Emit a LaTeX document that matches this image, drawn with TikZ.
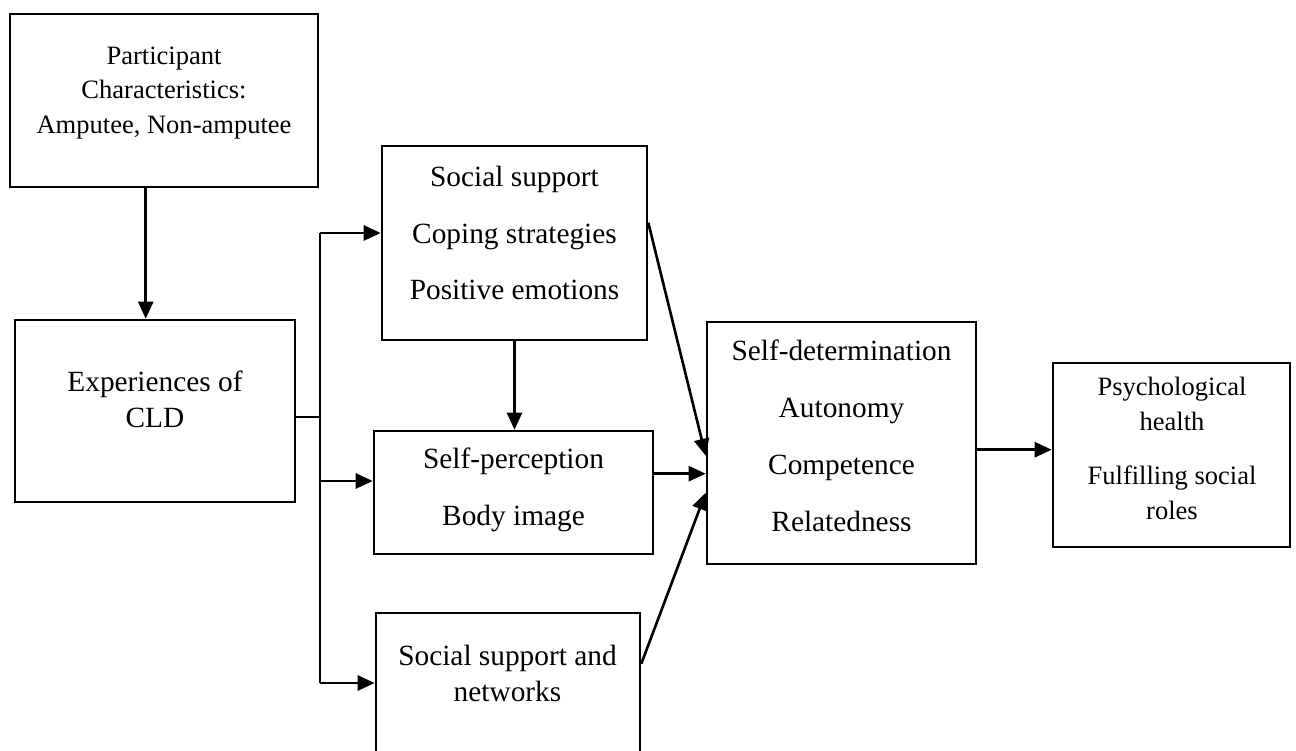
\documentclass[tikz,border=0pt]{standalone}
\usepackage{fontspec}
\setmainfont{Liberation Serif}
\usetikzlibrary{arrows.meta,positioning,calc}

\begin{document}
\begin{tikzpicture}[
  x=0.02cm, y=-0.02cm,
  frame/.style={
    draw,
    line width=1.5pt,
    inner sep=0pt
  },
  words/.style={align=center,inner sep=0pt,font=\fontsize{16.7}{20.5}\selectfont},
  smallwords/.style={words,font=\fontsize{15.1}{19.9}\selectfont},
  arrowline/.style={line width=1.5pt,-{Triangle[length=0.34cm,width=0.3cm]}},
  branch/.style={line width=0.8pt}
]
\useasboundingbox (0,0) rectangle (1296,751);

% boxes
\node[frame,minimum width=6.16cm,minimum height=3.46cm] (part) at (164,100.5) {};
\node[frame,minimum width=5.6cm,minimum height=3.64cm] (exp) at (155,411) {};
\node[frame,minimum width=5.3cm,minimum height=3.88cm] (ss) at (514.5,243) {};
\node[frame,minimum width=5.58cm,minimum height=2.46cm] (sp) at (513.5,492.5) {};
\node[frame,minimum width=5.28cm,minimum height=3.14cm] (net) at (508,691.5) {};
\node[frame,minimum width=5.38cm,minimum height=4.84cm] (sd) at (841.5,443) {};
\node[frame,minimum width=4.74cm,minimum height=3.68cm] (ps) at (1171.5,455) {};

% texts
\node[smallwords] (parttext) at (164,93)
  {Participant\\Characteristics:\\Amputee, Non-amputee};
\node[words] (exptext) at (155,399) {Experiences of\\CLD};
\node[words] (sstext) at (514.5,233)
  {Social support\\[11.9pt]Coping strategies\\[11.9pt]Positive emotions};
\node[words] (sptext) at (513.5,489.5) {Self-perception\\[11.9pt]Body image};
\node[words] (nettext) at (507.5,673) {Social support and\\networks};
\node[words] (sdtext) at (841.5,436)
  {Self-determination\\[11.9pt]Autonomy\\[11.9pt]Competence\\[11.9pt]Relatedness};
\node[smallwords] (pstext) at (1172,448)
  {Psychological\\health\\[10.8pt]Fulfilling social\\roles};

% connectors
\draw[arrowline] ($(part.south west)+(137,0)$) coordinate (drop) -- (drop |- exp.north);
\coordinate (fork) at (320,417);
\coordinate (forktop) at (320,233);
\coordinate (forkmid) at (320,481);
\coordinate (forkbot) at (320,683);
\draw[branch] (exp.east |- fork) -- (fork);
\draw[branch] (forktop) -- (forkbot);
\draw[arrowline] (forktop) -- (forktop -| ss.west);
\draw[arrowline] (forkmid) -- (forkmid -| sp.west);
\draw[arrowline] (forkbot) -- (forkbot -| net.west);
\draw[arrowline] (ss.south) -- (ss.south |- sp.north);
\draw[arrowline] ($(ss.north east)+(0,78)$) -- ($(sd.north west)+(0,135)$);
\draw[arrowline] ($(sp.north east)+(0,44)$) coordinate (spout) -- (spout -| sd.west);
\draw[arrowline] ($(net.north east)+(0,52)$) -- ($(sd.north west)+(0,172)$);
\draw[arrowline] ($(sd.north east)+(0,129)$) coordinate (sdout) -- (sdout -| ps.west);
\end{tikzpicture}
\end{document}
